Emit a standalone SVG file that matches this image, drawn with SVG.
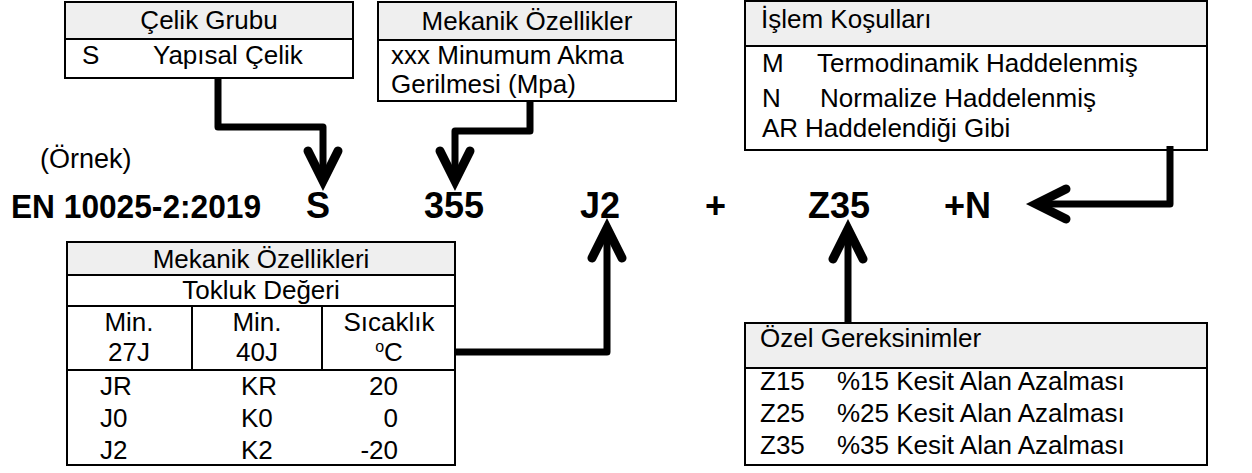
<svg xmlns="http://www.w3.org/2000/svg" width="1252" height="473" viewBox="0 0 1252 473">
<style>
.t{font-family:"Liberation Sans",Arial,sans-serif;font-size:26px;fill:#000}
.b{font-family:"Liberation Sans",Arial,sans-serif;font-size:36px;font-weight:bold;fill:#000}
.box{fill:#fff;stroke:#000;stroke-width:2}
.hdr{fill:#efefef;stroke:#000;stroke-width:2}
.ln{stroke:#000;stroke-width:2;fill:none}
.sh{stroke:#000;stroke-width:7;fill:none;stroke-linejoin:round;stroke-linecap:butt}
.ah{stroke:#000;stroke-width:9;fill:none;stroke-linejoin:miter;stroke-linecap:round}
.m{text-anchor:middle}
.e{text-anchor:end}
</style>
<rect width="1252" height="473" fill="#fff"/>

<g id="celik-grubu">
<rect class="box" x="65" y="2" width="288" height="76"/>
<rect class="hdr" x="65" y="2" width="288" height="37"/>
<text class="t m" x="209" y="29">Çelik Grubu</text>
<text class="t" x="82" y="64">S</text>
<text class="t" x="153" y="64">Yapısal Çelik</text>
</g>

<g id="mekanik-ozellikler">
<rect class="box" x="378" y="2" width="298" height="99"/>
<rect class="hdr" x="378" y="2" width="298" height="38"/>
<text class="t m" x="527" y="30">Mekanik Özellikler</text>
<text class="t" x="391" y="64">xxx Minumum Akma</text>
<text class="t" x="391" y="93">Gerilmesi (Mpa)</text>
</g>

<g id="islem-kosullari">
<rect class="box" x="745" y="1" width="462" height="149"/>
<rect class="hdr" x="745" y="1" width="462" height="45"/>
<text class="t" x="761" y="28">İşlem Koşulları</text>
<text class="t" x="762" y="72">M</text>
<text class="t" x="817" y="72">Termodinamik Haddelenmiş</text>
<text class="t" x="762" y="107">N</text>
<text class="t" x="820" y="107">Normalize Haddelenmiş</text>
<text class="t" x="762" y="137">AR</text>
<text class="t" x="805" y="137">Haddelendiği Gibi</text>
</g>

<g id="ornek">
<text class="t" x="40" y="168" style="font-size:27px">(Örnek)</text>
</g>

<g id="kod">
<text class="b" x="11" y="218" style="font-size:34px" textLength="250" lengthAdjust="spacingAndGlyphs">EN 10025-2:2019</text>
<text class="b" x="306" y="218">S</text>
<text class="b" x="424" y="218">355</text>
<text class="b" x="580" y="218">J2</text>
<text class="b" x="705" y="218">+</text>
<text class="b" x="808" y="218">Z35</text>
<text class="b" x="944" y="218">+N</text>
</g>

<g id="tokluk-tablosu">
<rect class="box" x="67" y="242" width="388" height="223"/>
<rect class="hdr" x="67" y="242" width="388" height="33"/>
<line class="ln" x1="67" y1="306" x2="455" y2="306"/>
<line class="ln" x1="67" y1="370" x2="455" y2="370"/>
<line class="ln" x1="192" y1="306" x2="192" y2="370"/>
<line class="ln" x1="322" y1="306" x2="322" y2="370"/>
<text class="t m" x="261" y="268">Mekanik Özellikleri</text>
<text class="t m" x="261" y="299">Tokluk Değeri</text>
<text class="t m" x="129" y="331">Min.</text>
<text class="t m" x="257" y="331">Min.</text>
<text class="t m" x="389" y="331">Sıcaklık</text>
<text class="t m" x="129" y="361">27J</text>
<text class="t m" x="257" y="361">40J</text>
<text class="t m" x="389" y="361"><tspan style="font-size:16px" dy="-9">o</tspan><tspan dy="9">C</tspan></text>
<text class="t" x="100" y="395">JR</text>
<text class="t" x="241" y="395">KR</text>
<text class="t e" x="398" y="395">20</text>
<text class="t" x="100" y="427">J0</text>
<text class="t" x="241" y="427">K0</text>
<text class="t e" x="398" y="427">0</text>
<text class="t" x="100" y="459">J2</text>
<text class="t" x="241" y="459">K2</text>
<text class="t e" x="398" y="459">-20</text>
</g>

<g id="ozel-gereksinimler">
<rect class="box" x="745" y="323" width="462" height="142"/>
<rect class="hdr" x="745" y="323" width="462" height="45"/>
<text class="t" x="760" y="347">Özel Gereksinimler</text>
<text class="t" x="760" y="390">Z15</text>
<text class="t" x="837" y="390">%15 Kesit Alan Azalması</text>
<text class="t" x="760" y="422">Z25</text>
<text class="t" x="837" y="422">%25 Kesit Alan Azalması</text>
<text class="t" x="760" y="454">Z35</text>
<text class="t" x="837" y="454">%35 Kesit Alan Azalması</text>
</g>

<g id="connectors">
<path class="sh" d="M218,78 V127 H323 V176"/>
<polyline class="ah" points="308,151 323,181 338,151"/>
<path class="sh" d="M530,101 V131 H455 V176"/>
<polyline class="ah" points="440,151 455,181 470,151"/>
<path class="sh" d="M456,352 H607 V234"/>
<polyline class="ah" points="592,258 607,228 622,258"/>
<path class="sh" d="M848,322 V234"/>
<polyline class="ah" points="833,259 848,229 863,259"/>
<path class="sh" d="M1170,146 V204 H1042"/>
<polyline class="ah" points="1066,189 1036,204 1066,219"/>
</g>
</svg>
